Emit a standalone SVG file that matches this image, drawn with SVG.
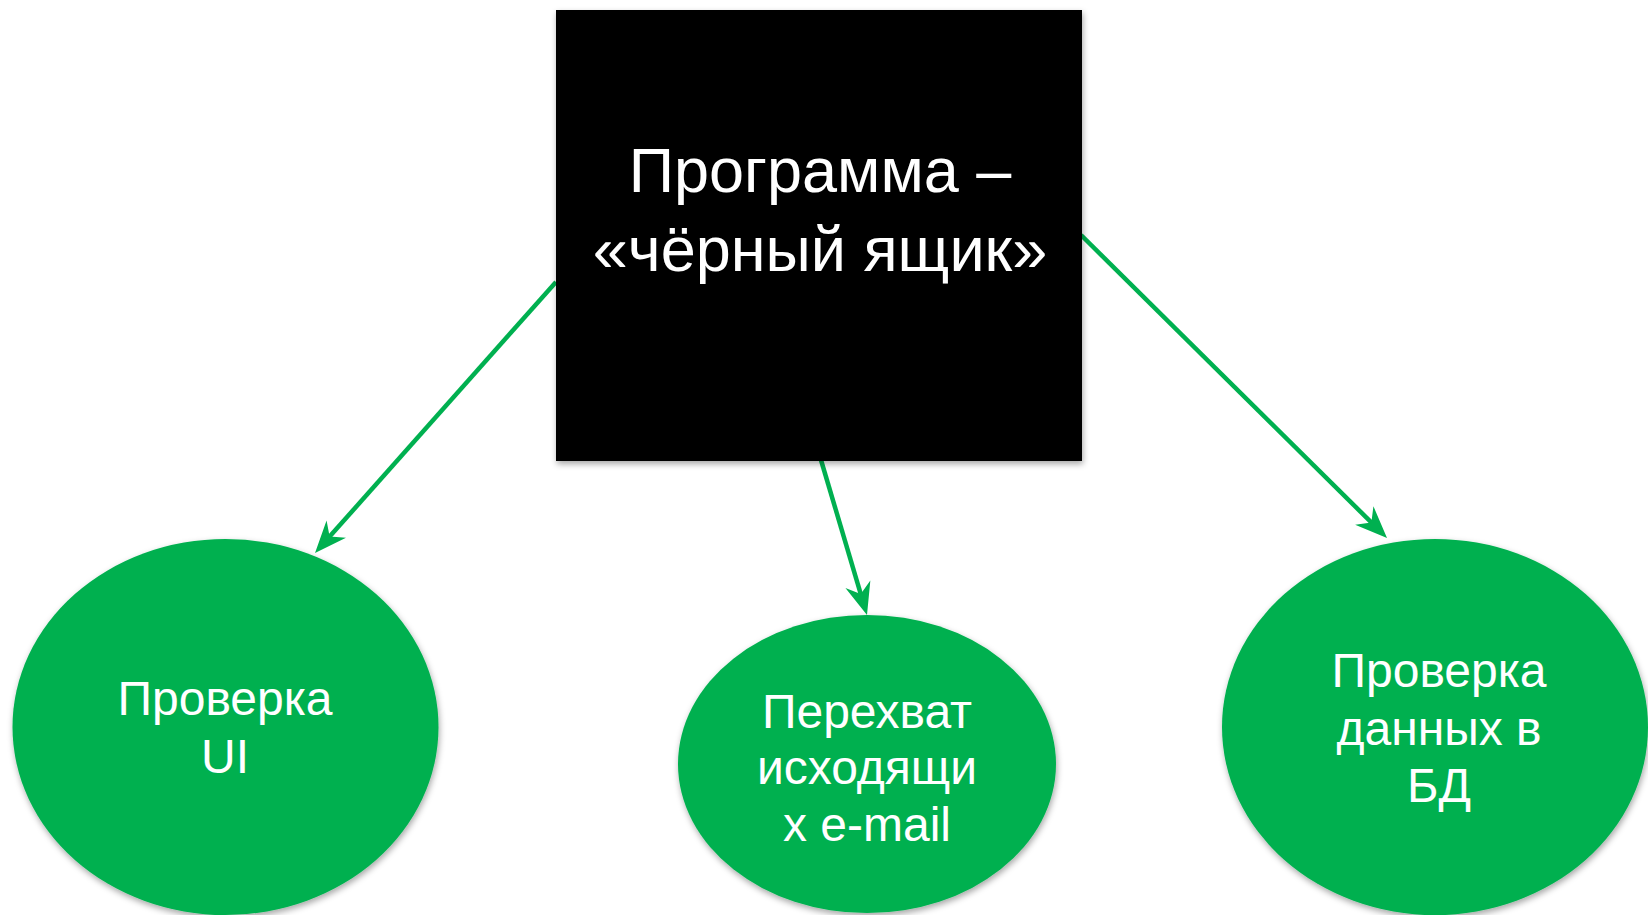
<svg xmlns="http://www.w3.org/2000/svg" width="1648" height="915" viewBox="0 0 1648 915">
  <style>
    .lbl { font-family: "Liberation Sans", Arial, sans-serif; fill: #FFFFFF; text-anchor: middle; }
    .big { font-size: 63px; }
    .sm { font-size: 48px; }
    .node-oval { fill: #00B050; filter: url(#shadow); }
    .conn { stroke: #00B050; stroke-width: 4.5; fill: none; marker-end: url(#arrow); }
  </style>
  <defs>
    <filter id="shadow" x="-10%" y="-10%" width="120%" height="125%">
      <feDropShadow dx="1" dy="3" stdDeviation="3" flood-color="#000000" flood-opacity="0.35"/>
    </filter>
    <marker id="arrow" markerUnits="userSpaceOnUse" viewBox="-15 -15 40 30" markerWidth="40" markerHeight="30" refX="0" refY="0" orient="auto" overflow="visible">
      <path d="M20,0 L-12,-13 L-2,0 L-12,13 Z" fill="#00B050"/>
    </marker>
  </defs>
  <rect width="1648" height="915" fill="#FFFFFF"/>
  <g id="connectors">
    <line class="conn" x1="556" y1="282" x2="328.3" y2="538.1"/>
    <line class="conn" x1="821" y1="460" x2="861.3" y2="595.8"/>
    <line class="conn" x1="1081" y1="235" x2="1372.8" y2="523.9"/>
  </g>
  <g id="node-program">
    <rect x="556" y="10" width="526" height="451" fill="#000000" filter="url(#shadow)"/>
    <text class="lbl big" x="820" y="192">Программа –</text>
    <text class="lbl big" x="820" y="271">«чёрный ящик»</text>
  </g>
  <g id="node-ui">
    <ellipse class="node-oval" cx="225.5" cy="727" rx="213" ry="188"/>
    <text class="lbl sm" x="225" y="715">Проверка</text>
    <text class="lbl sm" x="225" y="773">UI</text>
  </g>
  <g id="node-email">
    <ellipse class="node-oval" cx="867" cy="764" rx="189" ry="149"/>
    <text class="lbl sm" x="867" y="728">Перехват</text>
    <text class="lbl sm" x="867" y="784">исходящи</text>
    <text class="lbl sm" x="867" y="841">х e-mail</text>
  </g>
  <g id="node-db">
    <ellipse class="node-oval" cx="1435" cy="727" rx="213" ry="188"/>
    <text class="lbl sm" x="1439" y="687">Проверка</text>
    <text class="lbl sm" x="1439" y="745">данных в</text>
    <text class="lbl sm" x="1439" y="802">БД</text>
  </g>
</svg>
